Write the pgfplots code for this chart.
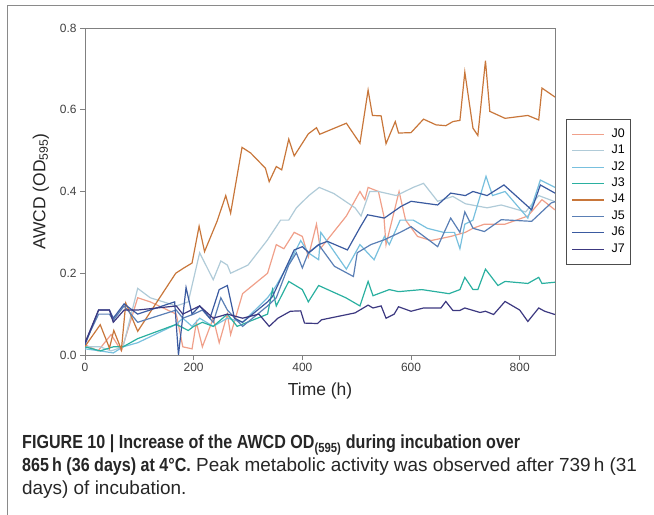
\documentclass[border=0pt]{standalone}
\usepackage{pgfplots}
\pgfplotsset{compat=1.18}
\usepackage{fontspec}
\setmainfont{Liberation Sans}
\newfontfamily\capbold{Liberation Sans}[FakeStretch=0.85]

\definecolor{cJ0}{HTML}{F0A08A}
\definecolor{cJ1}{HTML}{B0CBD8}
\definecolor{cJ2}{HTML}{78C0DE}
\definecolor{cJ3}{HTML}{2AB0A0}
\definecolor{cJ4}{HTML}{C8763A}
\definecolor{cJ5}{HTML}{5A7FB5}
\definecolor{cJ6}{HTML}{3A5AA0}
\definecolor{cJ7}{HTML}{3C3880}
\definecolor{frame}{HTML}{8A8A8A}

\begin{document}
\begin{tikzpicture}[x=1bp,y=1bp]
\path[use as bounding box] (0,0) rectangle (654,515);
\draw[frame,line width=1bp] (654,509) -- (7,509) -- (7,0);

\begin{axis}[
  at={(85bp,160bp)}, anchor=south west,
  scale only axis, width=470bp, height=327bp,
  xmin=0, xmax=865, ymin=0, ymax=0.8,
  xtick={0,200,400,600,800},
  ytick={0,0.2,0.4,0.6,0.8},
  yticklabel style={/pgf/number format/.cd,fixed,fixed zerofill,precision=1},
  /pgf/number format/assume math mode=true,
  xtick pos=bottom, ytick pos=left,
  tick align=outside, major tick length=5bp,
  axis line style={color=gray, line width=0.9bp},
  every tick/.style={color=gray, line width=0.8bp},
  ticklabel style={font=\fontsize{12}{14}\selectfont, color=black!75},
  xlabel={Time (h)}, ylabel={AWCD (OD\textsubscript{595})},
  label style={font=\fontsize{17.5}{20}\selectfont, color=black!85},
  x label style={at={(axis description cs:0.5,-0.11)}, anchor=center},
  y label style={at={(axis description cs:-0.094,0.5)}, anchor=center},
  legend style={at={(axis description cs:1.0234,0.7217)}, anchor=north west,
    draw=black!70, line width=0.8bp, font=\fontsize{12.5}{14}\selectfont,
    inner xsep=5bp, inner ysep=8bp, row sep=2.4bp,
    nodes={inner sep=1bp, text height=9bp, text depth=3bp},
    /tikz/every odd column/.append style={column sep=6bp}},
  legend cell align=left,
  legend image code/.code={\draw[#1] (0bp,0bp) -- (32bp,0bp);},
  every axis plot/.append style={line width=1.2bp},
]
% J0
\addplot[cJ0] coordinates {(0,0.025) (24,0.01) (48,0.05) (67,0.01) (97,0.14) (120,0.13) (168,0.10) (180,0.02) (197,0.015) (205,0.08) (216,0.02) (236,0.09) (247,0.03) (262,0.10) (268,0.05) (290,0.15) (336,0.20) (352,0.27) (366,0.26) (385,0.30) (400,0.29) (411,0.24) (426,0.32) (433,0.26) (481,0.34) (506,0.40) (515,0.38) (521,0.41) (540,0.40) (550,0.34) (554,0.27) (578,0.40) (590,0.33) (612,0.29) (637,0.28) (673,0.29) (700,0.30) (714,0.31) (735,0.32) (773,0.32) (815,0.34) (841,0.38) (865,0.355)};
% J1
\addplot[cJ1] coordinates {(0,0.02) (28,0.02) (48,0.01) (70,0.02) (97,0.163) (120,0.14) (168,0.12) (190,0.13) (211,0.25) (236,0.184) (250,0.23) (262,0.22) (268,0.20) (300,0.22) (335,0.28) (360,0.33) (375,0.33) (389,0.36) (412,0.39) (431,0.41) (458,0.395) (497,0.36) (508,0.34) (524,0.40) (540,0.40) (573,0.39) (604,0.41) (623,0.42) (649,0.376) (677,0.388) (700,0.37) (740,0.36) (766,0.367) (811,0.35) (835,0.39) (865,0.375)};
% J2
\addplot[cJ2] coordinates {(0,0.015) (28,0.01) (52,0.005) (70,0.02) (97,0.03) (168,0.075) (180,0.09) (197,0.07) (211,0.09) (236,0.07) (262,0.09) (290,0.08) (336,0.14) (352,0.17) (379,0.233) (397,0.28) (411,0.25) (430,0.233) (434,0.30) (481,0.21) (506,0.27) (532,0.233) (551,0.29) (560,0.27) (580,0.33) (604,0.33) (630,0.31) (660,0.30) (680,0.30) (690,0.26) (699,0.32) (714,0.33) (738,0.437) (750,0.39) (773,0.40) (815,0.335) (838,0.428) (865,0.41)};
% J3
\addplot[cJ3] coordinates {(0,0.02) (28,0.01) (52,0.02) (70,0.02) (97,0.04) (168,0.075) (190,0.06) (200,0.07) (216,0.08) (236,0.07) (262,0.10) (280,0.07) (336,0.10) (345,0.16) (352,0.12) (375,0.18) (400,0.16) (411,0.13) (430,0.17) (480,0.14) (506,0.12) (521,0.18) (530,0.145) (560,0.16) (577,0.155) (620,0.16) (670,0.15) (690,0.16) (699,0.19) (714,0.16) (723,0.16) (737,0.21) (760,0.17) (773,0.18) (815,0.175) (835,0.19) (841,0.175) (865,0.178)};
% J4
\addplot[cJ4] coordinates {(0,0.021) (28,0.074) (45,0.017) (53,0.06) (67,0.013) (75,0.127) (97,0.058) (167,0.20) (182,0.213) (197,0.225) (210,0.315) (220,0.253) (243,0.327) (259,0.39) (268,0.347) (289,0.508) (305,0.494) (332,0.457) (339,0.424) (352,0.461) (362,0.453) (375,0.528) (385,0.487) (411,0.541) (426,0.556) (432,0.540) (481,0.567) (506,0.518) (521,0.648) (529,0.586) (545,0.585) (554,0.517) (571,0.571) (577,0.543) (600,0.544) (623,0.577) (646,0.563) (664,0.561) (677,0.571) (690,0.574) (699,0.692) (714,0.555) (723,0.537) (737,0.72) (745,0.596) (773,0.579) (815,0.586) (835,0.575) (841,0.653) (865,0.631)};
% J5
\addplot[cJ5] coordinates {(0,0.03) (25,0.10) (45,0.10) (52,0.085) (72,0.12) (97,0.08) (168,0.11) (180,0.09) (200,0.10) (216,0.11) (236,0.08) (250,0.14) (262,0.11) (290,0.07) (336,0.12) (352,0.14) (375,0.22) (389,0.25) (400,0.213) (411,0.25) (430,0.27) (459,0.217) (494,0.192) (501,0.25) (526,0.27) (551,0.282) (580,0.30) (600,0.314) (649,0.265) (673,0.335) (690,0.30) (699,0.35) (714,0.31) (735,0.302) (766,0.331) (822,0.327) (858,0.372) (865,0.375)};
% J6
\addplot[cJ6] coordinates {(0,0.025) (25,0.11) (45,0.11) (52,0.09) (72,0.125) (97,0.10) (165,0.13) (172,0.0) (186,0.165) (197,0.10) (211,0.12) (230,0.09) (247,0.16) (262,0.17) (275,0.09) (290,0.08) (336,0.13) (345,0.143) (385,0.257) (400,0.265) (412,0.25) (430,0.27) (446,0.278) (483,0.257) (507,0.314) (520,0.343) (551,0.335) (581,0.363) (600,0.376) (649,0.367) (673,0.396) (700,0.39) (714,0.40) (740,0.39) (771,0.416) (822,0.355) (838,0.416) (865,0.396)};
% J7
\addplot[cJ7] coordinates {(0,0.03) (25,0.11) (45,0.11) (52,0.08) (72,0.11) (97,0.11) (168,0.12) (180,0.10) (211,0.12) (236,0.09) (262,0.10) (290,0.09) (320,0.10) (339,0.07) (355,0.09) (378,0.107) (397,0.108) (404,0.078) (428,0.077) (435,0.086) (497,0.103) (521,0.122) (530,0.115) (545,0.12) (554,0.09) (569,0.10) (577,0.118) (600,0.107) (623,0.115) (655,0.115) (664,0.131) (677,0.109) (690,0.109) (699,0.115) (727,0.104) (737,0.107) (752,0.099) (773,0.131) (800,0.11) (815,0.082) (835,0.115) (846,0.107) (865,0.099)};
\legend{J0,J1,J2,J3,J4,J5,J6,J7}
\end{axis}

\begin{scope}[every node/.style={anchor=base west, inner sep=0pt, font=\fontsize{19}{22}\selectfont, color=black!85}]
\node at (22,66) {{\capbold\bfseries FIGURE 10 | Increase of the AWCD OD\textsubscript{(595)} during incubation over}};
\node at (22,43) {{\capbold\bfseries 865\,h (36 days) at 4°C.} Peak metabolic activity was observed after 739\,h (31};
\node at (22,20) {days) of incubation.};
\end{scope}
\end{tikzpicture}
\end{document}
